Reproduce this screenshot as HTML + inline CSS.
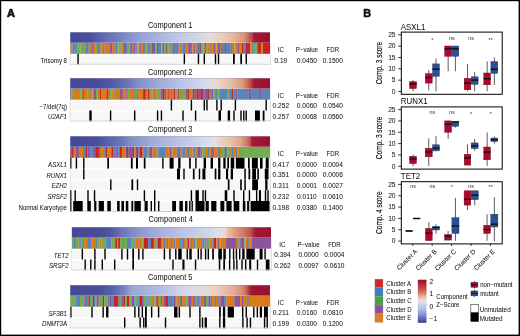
<!DOCTYPE html>
<html><head><meta charset="utf-8"><style>
html,body{margin:0;padding:0;background:#fff;width:520px;height:336px;overflow:hidden}
svg{display:block;will-change:transform;filter:blur(0.3px)}
text{font-family:"Liberation Sans", sans-serif;fill:#111;stroke:#111;stroke-width:0.03px} .bd{stroke-width:0.18px}
</style></head><body>
<svg width="520" height="336" viewBox="0 0 520 336">
<defs><linearGradient id="g0" x1="0" x2="1" y1="0" y2="0"><stop offset="-0" stop-color="#454896"/><stop offset="0.1" stop-color="#4a4f9e"/><stop offset="0.2" stop-color="#6b74b8"/><stop offset="0.37" stop-color="#99a6d6"/><stop offset="0.52" stop-color="#bcc4e6"/><stop offset="0.65" stop-color="#d6d9e2"/><stop offset="0.7" stop-color="#e4dcd8"/><stop offset="0.76" stop-color="#ebcdbb"/><stop offset="0.82" stop-color="#e6b498"/><stop offset="0.87" stop-color="#d89274"/><stop offset="0.89" stop-color="#c86a58"/><stop offset="0.91" stop-color="#b84848"/><stop offset="0.92" stop-color="#a01a32"/><stop offset="1" stop-color="#9c1030"/></linearGradient><linearGradient id="g1" x1="0" x2="1" y1="0" y2="0"><stop offset="-0" stop-color="#454896"/><stop offset="0.15" stop-color="#494e9c"/><stop offset="0.22" stop-color="#545ea8"/><stop offset="0.29" stop-color="#6c76b8"/><stop offset="0.35" stop-color="#8592c8"/><stop offset="0.45" stop-color="#a0acd8"/><stop offset="0.55" stop-color="#b8c2e4"/><stop offset="0.62" stop-color="#c8d0ea"/><stop offset="0.67" stop-color="#d4daee"/><stop offset="0.7" stop-color="#dcdce2"/><stop offset="0.73" stop-color="#ead8cc"/><stop offset="0.8" stop-color="#e8c0a8"/><stop offset="0.86" stop-color="#dc9a7c"/><stop offset="0.89" stop-color="#c86a58"/><stop offset="0.91" stop-color="#b03a40"/><stop offset="0.92" stop-color="#9e1a32"/><stop offset="1" stop-color="#9c1030"/></linearGradient><linearGradient id="g2" x1="0" x2="1" y1="0" y2="0"><stop offset="-0" stop-color="#454896"/><stop offset="0.12" stop-color="#484d9a"/><stop offset="0.17" stop-color="#525ca6"/><stop offset="0.25" stop-color="#6a74b8"/><stop offset="0.31" stop-color="#8590c8"/><stop offset="0.4" stop-color="#9eaad8"/><stop offset="0.5" stop-color="#b0bce0"/><stop offset="0.6" stop-color="#c4cde9"/><stop offset="0.67" stop-color="#d6dcef"/><stop offset="0.73" stop-color="#dfe1ec"/><stop offset="0.74" stop-color="#ecd6c8"/><stop offset="0.8" stop-color="#e8c4ae"/><stop offset="0.85" stop-color="#e0a68c"/><stop offset="0.88" stop-color="#d08068"/><stop offset="0.9" stop-color="#bb5850"/><stop offset="0.91" stop-color="#a01c34"/><stop offset="1" stop-color="#9c1030"/></linearGradient><linearGradient id="g3" x1="0" x2="1" y1="0" y2="0"><stop offset="0" stop-color="#454896"/><stop offset="0.14" stop-color="#474c9a"/><stop offset="0.2" stop-color="#5058a6"/><stop offset="0.25" stop-color="#6a74b8"/><stop offset="0.32" stop-color="#8590c8"/><stop offset="0.39" stop-color="#9aa6d6"/><stop offset="0.52" stop-color="#b4bee2"/><stop offset="0.59" stop-color="#c0c8e6"/><stop offset="0.69" stop-color="#d0d6ec"/><stop offset="0.73" stop-color="#dddfe6"/><stop offset="0.77" stop-color="#e6dcd8"/><stop offset="0.78" stop-color="#ebc4ac"/><stop offset="0.83" stop-color="#dc9478"/><stop offset="0.87" stop-color="#cc7060"/><stop offset="0.9" stop-color="#bb5048"/><stop offset="0.92" stop-color="#a01a34"/><stop offset="1" stop-color="#9c1030"/></linearGradient><linearGradient id="g4" x1="0" x2="1" y1="0" y2="0"><stop offset="-0" stop-color="#454896"/><stop offset="0.15" stop-color="#4a509c"/><stop offset="0.21" stop-color="#5560aa"/><stop offset="0.27" stop-color="#7884c0"/><stop offset="0.31" stop-color="#9aa6d6"/><stop offset="0.4" stop-color="#aab4de"/><stop offset="0.5" stop-color="#c0c8e6"/><stop offset="0.55" stop-color="#d0d4e8"/><stop offset="0.62" stop-color="#dcdde4"/><stop offset="0.67" stop-color="#e6dcd6"/><stop offset="0.73" stop-color="#ead0c0"/><stop offset="0.81" stop-color="#e4b098"/><stop offset="0.86" stop-color="#d88c74"/><stop offset="0.88" stop-color="#c86858"/><stop offset="0.9" stop-color="#a82838"/><stop offset="0.91" stop-color="#9e1530"/><stop offset="1" stop-color="#9c1030"/></linearGradient><linearGradient id="cb" x1="0" x2="0" y1="0" y2="1"><stop offset="0" stop-color="#9a0a2c"/><stop offset="0.1" stop-color="#b02838"/><stop offset="0.24" stop-color="#cc5c50"/><stop offset="0.33" stop-color="#e08c70"/><stop offset="0.4" stop-color="#ecb8a0"/><stop offset="0.47" stop-color="#e8dcd8"/><stop offset="0.54" stop-color="#d8dcee"/><stop offset="0.66" stop-color="#b8c2ea"/><stop offset="0.8" stop-color="#8c96d4"/><stop offset="0.91" stop-color="#5c64b4"/><stop offset="1" stop-color="#3a3c94"/></linearGradient></defs>
<rect x="0" y="0" width="520" height="336" fill="#fff"/>
<text x="6.9" y="16.7" font-size="11" font-weight="bold" style="stroke-width:0.7px">A</text>
<text x="363.2" y="16.5" font-size="10.8" font-weight="bold" style="stroke-width:0.55px">B</text>
<text transform="translate(170.2 27.5) scale(0.88 1)" font-size="8.4" text-anchor="middle">Component 1</text>
<rect x="70.2" y="32.2" width="199.8" height="10.8" fill="url(#g0)"/>
<rect x="70.2" y="32.2" width="199.8" height="0.7" fill="#8a8a9a" opacity="0.55"/>
<rect x="70.2" y="42.1" width="199.8" height="0.7" fill="#fff" opacity="0.35"/>
<rect x="70.2" y="43" width="0.95" height="10.8" fill="#d97a1b"/>
<rect x="71" y="43" width="1.55" height="10.8" fill="#72ad53"/>
<rect x="72.4" y="43" width="2.55" height="10.8" fill="#5a84b8"/>
<rect x="74.8" y="43" width="1.25" height="10.8" fill="#72ad53"/>
<rect x="75.9" y="43" width="1.75" height="10.8" fill="#5a84b8"/>
<rect x="77.5" y="43" width="1.75" height="10.8" fill="#72ad53"/>
<rect x="79.1" y="43" width="1.45" height="10.8" fill="#d97a1b"/>
<rect x="80.4" y="43" width="4.75" height="10.8" fill="#72ad53"/>
<rect x="85" y="43" width="1.15" height="10.8" fill="#d97a1b"/>
<rect x="86" y="43" width="2.85" height="10.8" fill="#5a84b8"/>
<rect x="88.7" y="43" width="3.45" height="10.8" fill="#d97a1b"/>
<rect x="92" y="43" width="1.15" height="10.8" fill="#8a5599"/>
<rect x="93" y="43" width="2.85" height="10.8" fill="#d97a1b"/>
<rect x="95.7" y="43" width="1.75" height="10.8" fill="#72ad53"/>
<rect x="97.3" y="43" width="1.75" height="10.8" fill="#8a5599"/>
<rect x="98.9" y="43" width="1.25" height="10.8" fill="#d97a1b"/>
<rect x="100" y="43" width="2.25" height="10.8" fill="#72ad53"/>
<rect x="102.1" y="43" width="1.25" height="10.8" fill="#d97a1b"/>
<rect x="103.2" y="43" width="1.45" height="10.8" fill="#8a5599"/>
<rect x="104.5" y="43" width="5.75" height="10.8" fill="#d97a1b"/>
<rect x="110.1" y="43" width="2.65" height="10.8" fill="#8a5599"/>
<rect x="112.6" y="43" width="3.35" height="10.8" fill="#d97a1b"/>
<rect x="115.8" y="43" width="1.45" height="10.8" fill="#5a84b8"/>
<rect x="117.1" y="43" width="1.45" height="10.8" fill="#d97a1b"/>
<rect x="118.4" y="43" width="1.75" height="10.8" fill="#72ad53"/>
<rect x="120" y="43" width="1.45" height="10.8" fill="#72ad53"/>
<rect x="121.3" y="43" width="1.85" height="10.8" fill="#d97a1b"/>
<rect x="123" y="43" width="1.25" height="10.8" fill="#5a84b8"/>
<rect x="124.1" y="43" width="1.95" height="10.8" fill="#8a5599"/>
<rect x="125.9" y="43" width="1.25" height="10.8" fill="#5a84b8"/>
<rect x="127" y="43" width="3.35" height="10.8" fill="#72ad53"/>
<rect x="130.2" y="43" width="2.55" height="10.8" fill="#8a5599"/>
<rect x="132.6" y="43" width="1.45" height="10.8" fill="#d97a1b"/>
<rect x="133.9" y="43" width="1.25" height="10.8" fill="#8a5599"/>
<rect x="135" y="43" width="1.25" height="10.8" fill="#72ad53"/>
<rect x="136.1" y="43" width="1.35" height="10.8" fill="#5a84b8"/>
<rect x="137.3" y="43" width="1.25" height="10.8" fill="#72ad53"/>
<rect x="138.4" y="43" width="1.85" height="10.8" fill="#d97a1b"/>
<rect x="140.1" y="43" width="1.25" height="10.8" fill="#8a5599"/>
<rect x="141.2" y="43" width="1.95" height="10.8" fill="#d97a1b"/>
<rect x="143" y="43" width="2.65" height="10.8" fill="#5a84b8"/>
<rect x="145.5" y="43" width="1.45" height="10.8" fill="#d97a1b"/>
<rect x="146.8" y="43" width="1.35" height="10.8" fill="#72ad53"/>
<rect x="148" y="43" width="2.15" height="10.8" fill="#5a84b8"/>
<rect x="150" y="43" width="1.45" height="10.8" fill="#72ad53"/>
<rect x="151.3" y="43" width="4.15" height="10.8" fill="#8a5599"/>
<rect x="155.3" y="43" width="1.75" height="10.8" fill="#72ad53"/>
<rect x="156.9" y="43" width="1.25" height="10.8" fill="#8a5599"/>
<rect x="158" y="43" width="3.35" height="10.8" fill="#5a84b8"/>
<rect x="161.2" y="43" width="1.55" height="10.8" fill="#72ad53"/>
<rect x="162.6" y="43" width="1.65" height="10.8" fill="#8a5599"/>
<rect x="164.1" y="43" width="1.55" height="10.8" fill="#72ad53"/>
<rect x="165.5" y="43" width="1.75" height="10.8" fill="#8a5599"/>
<rect x="167.1" y="43" width="1.25" height="10.8" fill="#d97a1b"/>
<rect x="168.2" y="43" width="1.95" height="10.8" fill="#72ad53"/>
<rect x="170" y="43" width="2.55" height="10.8" fill="#72ad53"/>
<rect x="172.4" y="43" width="1.85" height="10.8" fill="#8a5599"/>
<rect x="174.1" y="43" width="4.65" height="10.8" fill="#5a84b8"/>
<rect x="178.6" y="43" width="0.95" height="10.8" fill="#8a5599"/>
<rect x="179.4" y="43" width="3.05" height="10.8" fill="#d97a1b"/>
<rect x="182.3" y="43" width="2.85" height="10.8" fill="#5a84b8"/>
<rect x="185" y="43" width="3.35" height="10.8" fill="#d97a1b"/>
<rect x="188.2" y="43" width="2.85" height="10.8" fill="#8a5599"/>
<rect x="190.9" y="43" width="1.55" height="10.8" fill="#5a84b8"/>
<rect x="192.3" y="43" width="1.95" height="10.8" fill="#d97a1b"/>
<rect x="194.1" y="43" width="1.25" height="10.8" fill="#8a5599"/>
<rect x="195.2" y="43" width="1.75" height="10.8" fill="#d97a1b"/>
<rect x="196.8" y="43" width="2.45" height="10.8" fill="#5a84b8"/>
<rect x="199.1" y="43" width="2.05" height="10.8" fill="#8a5599"/>
<rect x="201" y="43" width="1.25" height="10.8" fill="#d97a1b"/>
<rect x="202.1" y="43" width="1.45" height="10.8" fill="#72ad53"/>
<rect x="203.4" y="43" width="1.55" height="10.8" fill="#d97a1b"/>
<rect x="204.8" y="43" width="1.75" height="10.8" fill="#8a5599"/>
<rect x="206.4" y="43" width="1.75" height="10.8" fill="#72ad53"/>
<rect x="208" y="43" width="1.75" height="10.8" fill="#d97a1b"/>
<rect x="209.6" y="43" width="1.25" height="10.8" fill="#8a5599"/>
<rect x="210.7" y="43" width="1.25" height="10.8" fill="#72ad53"/>
<rect x="211.8" y="43" width="1.75" height="10.8" fill="#d97a1b"/>
<rect x="213.4" y="43" width="1.75" height="10.8" fill="#8a5599"/>
<rect x="215" y="43" width="1.45" height="10.8" fill="#72ad53"/>
<rect x="216.3" y="43" width="1.85" height="10.8" fill="#d97a1b"/>
<rect x="218" y="43" width="2.15" height="10.8" fill="#8a5599"/>
<rect x="220" y="43" width="1.15" height="10.8" fill="#d97a1b"/>
<rect x="221" y="43" width="3.95" height="10.8" fill="#5a84b8"/>
<rect x="224.8" y="43" width="1.25" height="10.8" fill="#8a5599"/>
<rect x="225.9" y="43" width="3.35" height="10.8" fill="#5a84b8"/>
<rect x="229.1" y="43" width="1.25" height="10.8" fill="#8a5599"/>
<rect x="230.2" y="43" width="1.95" height="10.8" fill="#5a84b8"/>
<rect x="232" y="43" width="2.65" height="10.8" fill="#d97a1b"/>
<rect x="234.5" y="43" width="1.45" height="10.8" fill="#72ad53"/>
<rect x="235.8" y="43" width="1.65" height="10.8" fill="#d97a1b"/>
<rect x="237.3" y="43" width="1.85" height="10.8" fill="#8a5599"/>
<rect x="239" y="43" width="3.15" height="10.8" fill="#d97a1b"/>
<rect x="242" y="43" width="1.15" height="10.8" fill="#c92424"/>
<rect x="243" y="43" width="3.05" height="10.8" fill="#5a84b8"/>
<rect x="245.9" y="43" width="4.45" height="10.8" fill="#c92424"/>
<rect x="250.2" y="43" width="1.55" height="10.8" fill="#d97a1b"/>
<rect x="251.6" y="43" width="1.55" height="10.8" fill="#5a84b8"/>
<rect x="253" y="43" width="4.45" height="10.8" fill="#72ad53"/>
<rect x="257.3" y="43" width="4.35" height="10.8" fill="#c92424"/>
<rect x="261.5" y="43" width="1.65" height="10.8" fill="#d97a1b"/>
<rect x="263" y="43" width="7.15" height="10.8" fill="#c92424"/>
<rect x="70.2" y="55" width="199.8" height="8.9" fill="#f7f7f7"/>
<rect x="77.35" y="53.8" width="1.4" height="10.8" fill="#000"/>
<rect x="183.65" y="53.8" width="1.4" height="10.8" fill="#000"/>
<rect x="197.75" y="53.8" width="1.4" height="10.8" fill="#000"/>
<rect x="203.6" y="53.8" width="1.4" height="10.8" fill="#000"/>
<rect x="214.8" y="53.8" width="1.4" height="10.8" fill="#000"/>
<rect x="217.8" y="53.8" width="1.4" height="10.8" fill="#000"/>
<rect x="233" y="53.8" width="1.8" height="10.8" fill="#000"/>
<rect x="240.3" y="53.8" width="1.7" height="10.8" fill="#000"/>
<rect x="245.55" y="53.8" width="1.4" height="10.8" fill="#000"/>
<text transform="translate(67 62.7) scale(0.95 1)" font-size="6.4" text-anchor="end">Trisomy 8</text>
<rect x="70.2" y="63.8" width="200.4" height="0.9" fill="#cfcfcf"/>
<rect x="270" y="54.3" width="0.8" height="10.3" fill="#d8d8d8"/>
<rect x="69.8" y="53.8" width="0.5" height="10.8" fill="#d0d0d0"/>
<text transform="translate(280.8 51.9) scale(0.95 1)" font-size="6.4" text-anchor="middle">IC</text>
<text transform="translate(306.9 51.9) scale(0.95 1)" font-size="6.4" text-anchor="middle">P−value</text>
<text transform="translate(332.8 51.9) scale(0.95 1)" font-size="6.4" text-anchor="middle">FDR</text>
<text transform="translate(280.8 62.5) scale(1.03 1)" font-size="6.4" text-anchor="middle">0.19</text>
<text transform="translate(306.9 62.5) scale(1.03 1)" font-size="6.4" text-anchor="middle">0.0450</text>
<text transform="translate(332.8 62.5) scale(1.03 1)" font-size="6.4" text-anchor="middle">0.1500</text>
<text transform="translate(170.2 74.8) scale(0.88 1)" font-size="8.4" text-anchor="middle">Component 2</text>
<rect x="70.2" y="78.1" width="199.8" height="10.8" fill="url(#g1)"/>
<rect x="70.2" y="78.1" width="199.8" height="0.7" fill="#8a8a9a" opacity="0.55"/>
<rect x="70.2" y="88" width="199.8" height="0.7" fill="#fff" opacity="0.35"/>
<rect x="70.2" y="88.9" width="1.35" height="10.8" fill="#8a5599"/>
<rect x="71.4" y="88.9" width="1.55" height="10.8" fill="#72ad53"/>
<rect x="72.8" y="88.9" width="7.45" height="10.8" fill="#d97a1b"/>
<rect x="80.1" y="88.9" width="1.25" height="10.8" fill="#72ad53"/>
<rect x="81.2" y="88.9" width="1.85" height="10.8" fill="#d97a1b"/>
<rect x="82.9" y="88.9" width="1.25" height="10.8" fill="#8a5599"/>
<rect x="84" y="88.9" width="3.25" height="10.8" fill="#d97a1b"/>
<rect x="87.1" y="88.9" width="1.95" height="10.8" fill="#72ad53"/>
<rect x="88.9" y="88.9" width="2.25" height="10.8" fill="#d97a1b"/>
<rect x="91" y="88.9" width="1.55" height="10.8" fill="#72ad53"/>
<rect x="92.4" y="88.9" width="1.55" height="10.8" fill="#d97a1b"/>
<rect x="93.8" y="88.9" width="2.25" height="10.8" fill="#8a5599"/>
<rect x="95.9" y="88.9" width="1.55" height="10.8" fill="#72ad53"/>
<rect x="97.3" y="88.9" width="2.55" height="10.8" fill="#d97a1b"/>
<rect x="99.7" y="88.9" width="1.55" height="10.8" fill="#c92424"/>
<rect x="101.1" y="88.9" width="5.75" height="10.8" fill="#d97a1b"/>
<rect x="106.7" y="88.9" width="1.95" height="10.8" fill="#c92424"/>
<rect x="108.5" y="88.9" width="1.55" height="10.8" fill="#d97a1b"/>
<rect x="109.9" y="88.9" width="1.55" height="10.8" fill="#72ad53"/>
<rect x="111.3" y="88.9" width="1.55" height="10.8" fill="#d97a1b"/>
<rect x="112.7" y="88.9" width="1.55" height="10.8" fill="#72ad53"/>
<rect x="114.1" y="88.9" width="6.05" height="10.8" fill="#d97a1b"/>
<rect x="120" y="88.9" width="2.95" height="10.8" fill="#8a5599"/>
<rect x="122.8" y="88.9" width="3.65" height="10.8" fill="#d97a1b"/>
<rect x="126.3" y="88.9" width="1.55" height="10.8" fill="#8a5599"/>
<rect x="127.7" y="88.9" width="1.55" height="10.8" fill="#72ad53"/>
<rect x="129.1" y="88.9" width="4.35" height="10.8" fill="#d97a1b"/>
<rect x="133.3" y="88.9" width="1.55" height="10.8" fill="#8a5599"/>
<rect x="134.7" y="88.9" width="2.55" height="10.8" fill="#72ad53"/>
<rect x="137.1" y="88.9" width="1.25" height="10.8" fill="#8a5599"/>
<rect x="138.2" y="88.9" width="5.05" height="10.8" fill="#d97a1b"/>
<rect x="143.1" y="88.9" width="1.95" height="10.8" fill="#c92424"/>
<rect x="144.9" y="88.9" width="1.15" height="10.8" fill="#8a5599"/>
<rect x="145.9" y="88.9" width="2.25" height="10.8" fill="#d97a1b"/>
<rect x="148" y="88.9" width="1.55" height="10.8" fill="#c92424"/>
<rect x="149.4" y="88.9" width="1.25" height="10.8" fill="#8a5599"/>
<rect x="150.5" y="88.9" width="2.15" height="10.8" fill="#72ad53"/>
<rect x="152.5" y="88.9" width="4.35" height="10.8" fill="#d97a1b"/>
<rect x="156.7" y="88.9" width="4.05" height="10.8" fill="#72ad53"/>
<rect x="160.6" y="88.9" width="2.25" height="10.8" fill="#8a5599"/>
<rect x="162.7" y="88.9" width="1.95" height="10.8" fill="#c92424"/>
<rect x="164.5" y="88.9" width="1.85" height="10.8" fill="#8a5599"/>
<rect x="166.2" y="88.9" width="1.55" height="10.8" fill="#d97a1b"/>
<rect x="167.6" y="88.9" width="1.25" height="10.8" fill="#c92424"/>
<rect x="168.7" y="88.9" width="1.45" height="10.8" fill="#d97a1b"/>
<rect x="170" y="88.9" width="1.25" height="10.8" fill="#d97a1b"/>
<rect x="171.1" y="88.9" width="1.55" height="10.8" fill="#8a5599"/>
<rect x="172.5" y="88.9" width="1.55" height="10.8" fill="#d97a1b"/>
<rect x="173.9" y="88.9" width="1.55" height="10.8" fill="#c92424"/>
<rect x="175.3" y="88.9" width="1.55" height="10.8" fill="#d97a1b"/>
<rect x="176.7" y="88.9" width="1.15" height="10.8" fill="#72ad53"/>
<rect x="177.7" y="88.9" width="1.55" height="10.8" fill="#8a5599"/>
<rect x="179.1" y="88.9" width="1.95" height="10.8" fill="#d97a1b"/>
<rect x="180.9" y="88.9" width="4.65" height="10.8" fill="#72ad53"/>
<rect x="185.4" y="88.9" width="2.25" height="10.8" fill="#8a5599"/>
<rect x="187.5" y="88.9" width="1.55" height="10.8" fill="#c92424"/>
<rect x="188.9" y="88.9" width="2.25" height="10.8" fill="#d97a1b"/>
<rect x="191" y="88.9" width="1.85" height="10.8" fill="#72ad53"/>
<rect x="192.7" y="88.9" width="1.95" height="10.8" fill="#c92424"/>
<rect x="194.5" y="88.9" width="2.25" height="10.8" fill="#8a5599"/>
<rect x="196.6" y="88.9" width="2.25" height="10.8" fill="#c92424"/>
<rect x="198.7" y="88.9" width="2.25" height="10.8" fill="#8a5599"/>
<rect x="200.8" y="88.9" width="2.25" height="10.8" fill="#c92424"/>
<rect x="202.9" y="88.9" width="1.55" height="10.8" fill="#5a84b8"/>
<rect x="204.3" y="88.9" width="3.65" height="10.8" fill="#8a5599"/>
<rect x="207.8" y="88.9" width="1.55" height="10.8" fill="#c92424"/>
<rect x="209.2" y="88.9" width="2.25" height="10.8" fill="#5a84b8"/>
<rect x="211.3" y="88.9" width="2.25" height="10.8" fill="#8a5599"/>
<rect x="213.4" y="88.9" width="1.85" height="10.8" fill="#72ad53"/>
<rect x="215.1" y="88.9" width="2.65" height="10.8" fill="#5a84b8"/>
<rect x="217.6" y="88.9" width="2.55" height="10.8" fill="#72ad53"/>
<rect x="220" y="88.9" width="7.85" height="10.8" fill="#5a84b8"/>
<rect x="227.7" y="88.9" width="1.55" height="10.8" fill="#72ad53"/>
<rect x="229.1" y="88.9" width="2.95" height="10.8" fill="#5a84b8"/>
<rect x="231.9" y="88.9" width="1.55" height="10.8" fill="#c92424"/>
<rect x="233.3" y="88.9" width="2.55" height="10.8" fill="#5a84b8"/>
<rect x="235.7" y="88.9" width="1.95" height="10.8" fill="#8a5599"/>
<rect x="237.5" y="88.9" width="11.35" height="10.8" fill="#5a84b8"/>
<rect x="248.7" y="88.9" width="2.55" height="10.8" fill="#8a5599"/>
<rect x="251.1" y="88.9" width="8.95" height="10.8" fill="#5a84b8"/>
<rect x="259.9" y="88.9" width="1.95" height="10.8" fill="#8a5599"/>
<rect x="261.7" y="88.9" width="8.45" height="10.8" fill="#5a84b8"/>
<rect x="70.2" y="100.9" width="199.8" height="8.9" fill="#f7f7f7"/>
<rect x="170.7" y="99.7" width="1.4" height="10.8" fill="#000"/>
<rect x="190.7" y="99.7" width="1.4" height="10.8" fill="#000"/>
<rect x="203.6" y="99.7" width="1.4" height="10.8" fill="#000"/>
<rect x="206.25" y="99.7" width="1.4" height="10.8" fill="#000"/>
<rect x="216.2" y="99.7" width="1.4" height="10.8" fill="#000"/>
<rect x="220.5" y="99.7" width="1.4" height="10.8" fill="#000"/>
<rect x="234.7" y="99.7" width="1.4" height="10.8" fill="#000"/>
<rect x="265.5" y="99.7" width="1.4" height="10.8" fill="#000"/>
<text transform="translate(67 108.6) scale(0.95 1)" font-size="6.4" text-anchor="end">−7/del(7q)</text>
<rect x="70.2" y="111.7" width="199.8" height="8.9" fill="#f7f7f7"/>
<rect x="89.3" y="110.5" width="2.4" height="10.8" fill="#000"/>
<rect x="109.9" y="110.5" width="1.4" height="10.8" fill="#000"/>
<rect x="134" y="110.5" width="1.4" height="10.8" fill="#000"/>
<rect x="156.9" y="110.5" width="1.4" height="10.8" fill="#000"/>
<rect x="160.75" y="110.5" width="1.4" height="10.8" fill="#000"/>
<rect x="182.3" y="110.5" width="1.4" height="10.8" fill="#000"/>
<rect x="194.9" y="110.5" width="1.4" height="10.8" fill="#000"/>
<rect x="218.5" y="110.5" width="2.5" height="10.8" fill="#000"/>
<rect x="227.7" y="110.5" width="2.4" height="10.8" fill="#000"/>
<rect x="233.3" y="110.5" width="1.4" height="10.8" fill="#000"/>
<rect x="240.3" y="110.5" width="1.4" height="10.8" fill="#000"/>
<rect x="243.1" y="110.5" width="1.4" height="10.8" fill="#000"/>
<rect x="245.5" y="110.5" width="1.4" height="10.8" fill="#000"/>
<rect x="255" y="110.5" width="4.9" height="10.8" fill="#000"/>
<rect x="262.7" y="110.5" width="1.8" height="10.8" fill="#000"/>
<text transform="translate(67 119.4) scale(0.95 1)" font-size="6.4" text-anchor="end" font-style="italic">U2AF1</text>
<rect x="70.2" y="120.5" width="200.4" height="0.9" fill="#cfcfcf"/>
<rect x="270" y="100.2" width="0.8" height="21.1" fill="#d8d8d8"/>
<rect x="69.8" y="99.7" width="0.5" height="21.6" fill="#d0d0d0"/>
<text transform="translate(280.8 97.8) scale(0.95 1)" font-size="6.4" text-anchor="middle">IC</text>
<text transform="translate(306.9 97.8) scale(0.95 1)" font-size="6.4" text-anchor="middle">P−value</text>
<text transform="translate(332.8 97.8) scale(0.95 1)" font-size="6.4" text-anchor="middle">FDR</text>
<text transform="translate(280.8 108.4) scale(1.03 1)" font-size="6.4" text-anchor="middle">0.252</text>
<text transform="translate(306.9 108.4) scale(1.03 1)" font-size="6.4" text-anchor="middle">0.0060</text>
<text transform="translate(332.8 108.4) scale(1.03 1)" font-size="6.4" text-anchor="middle">0.0540</text>
<text transform="translate(280.8 119.2) scale(1.03 1)" font-size="6.4" text-anchor="middle">0.257</text>
<text transform="translate(306.9 119.2) scale(1.03 1)" font-size="6.4" text-anchor="middle">0.0068</text>
<text transform="translate(332.8 119.2) scale(1.03 1)" font-size="6.4" text-anchor="middle">0.0560</text>
<text transform="translate(170.2 131.5) scale(0.88 1)" font-size="8.4" text-anchor="middle">Component 3</text>
<rect x="70.2" y="136.2" width="199.8" height="10.8" fill="url(#g2)"/>
<rect x="70.2" y="136.2" width="199.8" height="0.7" fill="#8a8a9a" opacity="0.55"/>
<rect x="70.2" y="146.1" width="199.8" height="0.7" fill="#fff" opacity="0.35"/>
<rect x="70.2" y="147" width="1.15" height="10.8" fill="#8a5599"/>
<rect x="71.2" y="147" width="1.85" height="10.8" fill="#c92424"/>
<rect x="72.9" y="147" width="1.25" height="10.8" fill="#5a84b8"/>
<rect x="74" y="147" width="2.15" height="10.8" fill="#d97a1b"/>
<rect x="76" y="147" width="2.95" height="10.8" fill="#8a5599"/>
<rect x="78.8" y="147" width="4.35" height="10.8" fill="#d97a1b"/>
<rect x="83" y="147" width="3.05" height="10.8" fill="#5a84b8"/>
<rect x="85.9" y="147" width="1.55" height="10.8" fill="#c92424"/>
<rect x="87.3" y="147" width="3.05" height="10.8" fill="#8a5599"/>
<rect x="90.2" y="147" width="3.05" height="10.8" fill="#5a84b8"/>
<rect x="93.1" y="147" width="2.85" height="10.8" fill="#8a5599"/>
<rect x="95.8" y="147" width="3.15" height="10.8" fill="#c92424"/>
<rect x="98.8" y="147" width="1.35" height="10.8" fill="#8a5599"/>
<rect x="100" y="147" width="4.25" height="10.8" fill="#d97a1b"/>
<rect x="104.1" y="147" width="1.85" height="10.8" fill="#5a84b8"/>
<rect x="105.8" y="147" width="1.35" height="10.8" fill="#c92424"/>
<rect x="107" y="147" width="4.45" height="10.8" fill="#d97a1b"/>
<rect x="111.3" y="147" width="1.95" height="10.8" fill="#c92424"/>
<rect x="113.1" y="147" width="3.25" height="10.8" fill="#5a84b8"/>
<rect x="116.2" y="147" width="2.05" height="10.8" fill="#8a5599"/>
<rect x="118.1" y="147" width="2.05" height="10.8" fill="#5a84b8"/>
<rect x="120" y="147" width="2.05" height="10.8" fill="#c92424"/>
<rect x="121.9" y="147" width="1.35" height="10.8" fill="#d97a1b"/>
<rect x="123.1" y="147" width="1.05" height="10.8" fill="#5a84b8"/>
<rect x="124" y="147" width="2.15" height="10.8" fill="#d97a1b"/>
<rect x="126" y="147" width="1.05" height="10.8" fill="#8a5599"/>
<rect x="126.9" y="147" width="1.75" height="10.8" fill="#c92424"/>
<rect x="128.5" y="147" width="4.65" height="10.8" fill="#8a5599"/>
<rect x="133" y="147" width="1.35" height="10.8" fill="#c92424"/>
<rect x="134.2" y="147" width="1.55" height="10.8" fill="#d97a1b"/>
<rect x="135.6" y="147" width="1.35" height="10.8" fill="#8a5599"/>
<rect x="136.8" y="147" width="1.65" height="10.8" fill="#c92424"/>
<rect x="138.3" y="147" width="1.85" height="10.8" fill="#5a84b8"/>
<rect x="140" y="147" width="2.75" height="10.8" fill="#c92424"/>
<rect x="142.6" y="147" width="1.55" height="10.8" fill="#d97a1b"/>
<rect x="144" y="147" width="3.05" height="10.8" fill="#5a84b8"/>
<rect x="146.9" y="147" width="1.65" height="10.8" fill="#d97a1b"/>
<rect x="148.4" y="147" width="1.55" height="10.8" fill="#5a84b8"/>
<rect x="149.8" y="147" width="2.85" height="10.8" fill="#8a5599"/>
<rect x="152.5" y="147" width="2.75" height="10.8" fill="#d97a1b"/>
<rect x="155.1" y="147" width="1.55" height="10.8" fill="#5a84b8"/>
<rect x="156.5" y="147" width="1.95" height="10.8" fill="#d97a1b"/>
<rect x="158.3" y="147" width="6.85" height="10.8" fill="#5a84b8"/>
<rect x="165" y="147" width="2.25" height="10.8" fill="#d97a1b"/>
<rect x="167.1" y="147" width="1.15" height="10.8" fill="#5a84b8"/>
<rect x="168.1" y="147" width="2.05" height="10.8" fill="#d97a1b"/>
<rect x="170" y="147" width="1.35" height="10.8" fill="#8a5599"/>
<rect x="171.2" y="147" width="1.35" height="10.8" fill="#5a84b8"/>
<rect x="172.4" y="147" width="4.45" height="10.8" fill="#d97a1b"/>
<rect x="176.7" y="147" width="2.55" height="10.8" fill="#5a84b8"/>
<rect x="179.1" y="147" width="1.65" height="10.8" fill="#8a5599"/>
<rect x="180.6" y="147" width="1.85" height="10.8" fill="#d97a1b"/>
<rect x="182.3" y="147" width="2.75" height="10.8" fill="#5a84b8"/>
<rect x="184.9" y="147" width="2.05" height="10.8" fill="#d97a1b"/>
<rect x="186.8" y="147" width="2.35" height="10.8" fill="#5a84b8"/>
<rect x="189" y="147" width="2.35" height="10.8" fill="#d97a1b"/>
<rect x="191.2" y="147" width="1.25" height="10.8" fill="#5a84b8"/>
<rect x="192.3" y="147" width="1.85" height="10.8" fill="#d97a1b"/>
<rect x="194" y="147" width="1.65" height="10.8" fill="#5a84b8"/>
<rect x="195.5" y="147" width="2.55" height="10.8" fill="#d97a1b"/>
<rect x="197.9" y="147" width="2.85" height="10.8" fill="#8a5599"/>
<rect x="200.6" y="147" width="1.75" height="10.8" fill="#5a84b8"/>
<rect x="202.2" y="147" width="2.75" height="10.8" fill="#72ad53"/>
<rect x="204.8" y="147" width="3.35" height="10.8" fill="#d97a1b"/>
<rect x="208" y="147" width="1.35" height="10.8" fill="#5a84b8"/>
<rect x="209.2" y="147" width="1.85" height="10.8" fill="#d97a1b"/>
<rect x="210.9" y="147" width="1.35" height="10.8" fill="#5a84b8"/>
<rect x="212.1" y="147" width="1.85" height="10.8" fill="#8a5599"/>
<rect x="213.8" y="147" width="4.45" height="10.8" fill="#d97a1b"/>
<rect x="218.1" y="147" width="2.05" height="10.8" fill="#5a84b8"/>
<rect x="220" y="147" width="2.05" height="10.8" fill="#d97a1b"/>
<rect x="221.9" y="147" width="3.05" height="10.8" fill="#72ad53"/>
<rect x="224.8" y="147" width="1.35" height="10.8" fill="#8a5599"/>
<rect x="226" y="147" width="1.65" height="10.8" fill="#5a84b8"/>
<rect x="227.5" y="147" width="1.75" height="10.8" fill="#72ad53"/>
<rect x="229.1" y="147" width="2.75" height="10.8" fill="#d97a1b"/>
<rect x="231.7" y="147" width="1.45" height="10.8" fill="#5a84b8"/>
<rect x="233" y="147" width="2.05" height="10.8" fill="#d97a1b"/>
<rect x="234.9" y="147" width="1.15" height="10.8" fill="#72ad53"/>
<rect x="235.9" y="147" width="1.55" height="10.8" fill="#5a84b8"/>
<rect x="237.3" y="147" width="1.85" height="10.8" fill="#d97a1b"/>
<rect x="239" y="147" width="31.15" height="10.8" fill="#72ad53"/>
<rect x="70.2" y="159" width="199.8" height="8.9" fill="#f7f7f7"/>
<rect x="70.05" y="157.8" width="1.4" height="10.8" fill="#000"/>
<rect x="75.7" y="157.8" width="1.4" height="10.8" fill="#000"/>
<rect x="83.1" y="157.8" width="1.4" height="10.8" fill="#000"/>
<rect x="107.3" y="157.8" width="1.7" height="10.8" fill="#000"/>
<rect x="130.9" y="157.8" width="1.8" height="10.8" fill="#000"/>
<rect x="136" y="157.8" width="2" height="10.8" fill="#000"/>
<rect x="143.8" y="157.8" width="1.7" height="10.8" fill="#000"/>
<rect x="162.2" y="157.8" width="1.4" height="10.8" fill="#000"/>
<rect x="169.6" y="157.8" width="4" height="10.8" fill="#000"/>
<rect x="178.2" y="157.8" width="2.3" height="10.8" fill="#000"/>
<rect x="189.1" y="157.8" width="1.7" height="10.8" fill="#000"/>
<rect x="195.2" y="157.8" width="1.4" height="10.8" fill="#000"/>
<rect x="203.6" y="157.8" width="2.4" height="10.8" fill="#000"/>
<rect x="210.6" y="157.8" width="2.4" height="10.8" fill="#000"/>
<rect x="218.1" y="157.8" width="2.3" height="10.8" fill="#000"/>
<rect x="223.3" y="157.8" width="2.3" height="10.8" fill="#000"/>
<rect x="227.3" y="157.8" width="1.7" height="10.8" fill="#000"/>
<rect x="230.7" y="157.8" width="3.5" height="10.8" fill="#000"/>
<rect x="235.9" y="157.8" width="8.6" height="10.8" fill="#000"/>
<rect x="248" y="157.8" width="1.7" height="10.8" fill="#000"/>
<rect x="251.9" y="157.8" width="5.9" height="10.8" fill="#000"/>
<rect x="260" y="157.8" width="2.6" height="10.8" fill="#000"/>
<rect x="265.7" y="157.8" width="3" height="10.8" fill="#000"/>
<text transform="translate(67 166.7) scale(0.95 1)" font-size="6.4" text-anchor="end" font-style="italic">ASXL1</text>
<rect x="70.2" y="169.8" width="199.8" height="8.9" fill="#f7f7f7"/>
<rect x="83.1" y="168.6" width="1.4" height="10.8" fill="#000"/>
<rect x="177" y="168.6" width="3" height="10.8" fill="#000"/>
<rect x="183.3" y="168.6" width="1.4" height="10.8" fill="#000"/>
<rect x="192.9" y="168.6" width="1.7" height="10.8" fill="#000"/>
<rect x="198.8" y="168.6" width="1.4" height="10.8" fill="#000"/>
<rect x="202.4" y="168.6" width="3" height="10.8" fill="#000"/>
<rect x="214.7" y="168.6" width="1.7" height="10.8" fill="#000"/>
<rect x="218.1" y="168.6" width="2.3" height="10.8" fill="#000"/>
<rect x="226" y="168.6" width="2.1" height="10.8" fill="#000"/>
<rect x="230.7" y="168.6" width="2.3" height="10.8" fill="#000"/>
<rect x="244.3" y="168.6" width="1.5" height="10.8" fill="#000"/>
<rect x="248.5" y="168.6" width="1.7" height="10.8" fill="#000"/>
<rect x="252.2" y="168.6" width="3.8" height="10.8" fill="#000"/>
<rect x="257.3" y="168.6" width="1.6" height="10.8" fill="#000"/>
<rect x="264.8" y="168.6" width="3.7" height="10.8" fill="#000"/>
<text transform="translate(67 177.5) scale(0.95 1)" font-size="6.4" text-anchor="end" font-style="italic">RUNX1</text>
<rect x="70.2" y="180.6" width="199.8" height="8.9" fill="#f7f7f7"/>
<rect x="110.1" y="179.4" width="1.4" height="10.8" fill="#000"/>
<rect x="131.4" y="179.4" width="1.8" height="10.8" fill="#000"/>
<rect x="136.8" y="179.4" width="1.4" height="10.8" fill="#000"/>
<rect x="227.8" y="179.4" width="1.7" height="10.8" fill="#000"/>
<rect x="240.2" y="179.4" width="1.6" height="10.8" fill="#000"/>
<rect x="244.3" y="179.4" width="1.5" height="10.8" fill="#000"/>
<rect x="252.2" y="179.4" width="5.8" height="10.8" fill="#000"/>
<rect x="265.2" y="179.4" width="2.3" height="10.8" fill="#000"/>
<text transform="translate(67 188.3) scale(0.95 1)" font-size="6.4" text-anchor="end" font-style="italic">EZH2</text>
<rect x="70.2" y="191.4" width="199.8" height="8.9" fill="#f7f7f7"/>
<rect x="70.05" y="190.2" width="1.4" height="10.8" fill="#000"/>
<rect x="74.5" y="190.2" width="1.4" height="10.8" fill="#000"/>
<rect x="87.3" y="190.2" width="1.4" height="10.8" fill="#000"/>
<rect x="93.85" y="190.2" width="1.4" height="10.8" fill="#000"/>
<rect x="143.7" y="190.2" width="1.4" height="10.8" fill="#000"/>
<rect x="154" y="190.2" width="1.4" height="10.8" fill="#000"/>
<rect x="190.7" y="190.2" width="1.4" height="10.8" fill="#000"/>
<rect x="195.5" y="190.2" width="3.4" height="10.8" fill="#000"/>
<rect x="202.3" y="190.2" width="1.4" height="10.8" fill="#000"/>
<rect x="204.75" y="190.2" width="1.4" height="10.8" fill="#000"/>
<rect x="224.7" y="190.2" width="2.6" height="10.8" fill="#000"/>
<rect x="233.3" y="190.2" width="1.4" height="10.8" fill="#000"/>
<rect x="243" y="190.2" width="1.4" height="10.8" fill="#000"/>
<rect x="248.75" y="190.2" width="1.4" height="10.8" fill="#000"/>
<rect x="255.95" y="190.2" width="1.4" height="10.8" fill="#000"/>
<rect x="258.9" y="190.2" width="2.1" height="10.8" fill="#000"/>
<rect x="264.8" y="190.2" width="1.4" height="10.8" fill="#000"/>
<rect x="267.3" y="190.2" width="1.4" height="10.8" fill="#000"/>
<text transform="translate(67 199.1) scale(0.95 1)" font-size="6.4" text-anchor="end" font-style="italic">SRSF2</text>
<rect x="70.2" y="202.2" width="199.8" height="8.9" fill="#f7f7f7"/>
<rect x="70.05" y="201" width="1.4" height="10.8" fill="#000"/>
<rect x="73.2" y="201" width="9.5" height="10.8" fill="#000"/>
<rect x="87.3" y="201" width="3.5" height="10.8" fill="#000"/>
<rect x="94.2" y="201" width="2.2" height="10.8" fill="#000"/>
<rect x="98.7" y="201" width="5.2" height="10.8" fill="#000"/>
<rect x="107.3" y="201" width="3.5" height="10.8" fill="#000"/>
<rect x="117.1" y="201" width="2.6" height="10.8" fill="#000"/>
<rect x="121.4" y="201" width="2.6" height="10.8" fill="#000"/>
<rect x="125.8" y="201" width="2.5" height="10.8" fill="#000"/>
<rect x="131.4" y="201" width="1.8" height="10.8" fill="#000"/>
<rect x="134.4" y="201" width="6.4" height="10.8" fill="#000"/>
<rect x="144.6" y="201" width="3.1" height="10.8" fill="#000"/>
<rect x="150.6" y="201" width="1.4" height="10.8" fill="#000"/>
<rect x="154" y="201" width="1.4" height="10.8" fill="#000"/>
<rect x="158" y="201" width="1.4" height="10.8" fill="#000"/>
<rect x="172.2" y="201" width="3.8" height="10.8" fill="#000"/>
<rect x="179.4" y="201" width="3.5" height="10.8" fill="#000"/>
<rect x="185.1" y="201" width="2.3" height="10.8" fill="#000"/>
<rect x="189.1" y="201" width="1.4" height="10.8" fill="#000"/>
<rect x="191.5" y="201" width="1.4" height="10.8" fill="#000"/>
<rect x="195.5" y="201" width="9" height="10.8" fill="#000"/>
<rect x="205.6" y="201" width="3.2" height="10.8" fill="#000"/>
<rect x="211.2" y="201" width="5.2" height="10.8" fill="#000"/>
<rect x="220.4" y="201" width="3.9" height="10.8" fill="#000"/>
<rect x="226.4" y="201" width="5.2" height="10.8" fill="#000"/>
<rect x="233.7" y="201" width="5.6" height="10.8" fill="#000"/>
<rect x="242.8" y="201" width="2.6" height="10.8" fill="#000"/>
<rect x="247.1" y="201" width="2.1" height="10.8" fill="#000"/>
<rect x="250.6" y="201" width="18.9" height="10.8" fill="#000"/>
<text transform="translate(67 209.9) scale(0.95 1)" font-size="6.4" text-anchor="end">Normal Karyotype</text>
<rect x="70.2" y="211" width="200.4" height="0.9" fill="#cfcfcf"/>
<rect x="270" y="158.3" width="0.8" height="53.5" fill="#d8d8d8"/>
<rect x="69.8" y="157.8" width="0.5" height="54" fill="#d0d0d0"/>
<text transform="translate(280.8 155.9) scale(0.95 1)" font-size="6.4" text-anchor="middle">IC</text>
<text transform="translate(306.9 155.9) scale(0.95 1)" font-size="6.4" text-anchor="middle">P−value</text>
<text transform="translate(332.8 155.9) scale(0.95 1)" font-size="6.4" text-anchor="middle">FDR</text>
<text transform="translate(280.8 166.5) scale(1.03 1)" font-size="6.4" text-anchor="middle">0.417</text>
<text transform="translate(306.9 166.5) scale(1.03 1)" font-size="6.4" text-anchor="middle">0.0000</text>
<text transform="translate(332.8 166.5) scale(1.03 1)" font-size="6.4" text-anchor="middle">0.0004</text>
<text transform="translate(280.8 177.3) scale(1.03 1)" font-size="6.4" text-anchor="middle">0.351</text>
<text transform="translate(306.9 177.3) scale(1.03 1)" font-size="6.4" text-anchor="middle">0.0000</text>
<text transform="translate(332.8 177.3) scale(1.03 1)" font-size="6.4" text-anchor="middle">0.0006</text>
<text transform="translate(280.8 188.1) scale(1.03 1)" font-size="6.4" text-anchor="middle">0.311</text>
<text transform="translate(306.9 188.1) scale(1.03 1)" font-size="6.4" text-anchor="middle">0.0001</text>
<text transform="translate(332.8 188.1) scale(1.03 1)" font-size="6.4" text-anchor="middle">0.0027</text>
<text transform="translate(280.8 198.9) scale(1.03 1)" font-size="6.4" text-anchor="middle">0.232</text>
<text transform="translate(306.9 198.9) scale(1.03 1)" font-size="6.4" text-anchor="middle">0.0110</text>
<text transform="translate(332.8 198.9) scale(1.03 1)" font-size="6.4" text-anchor="middle">0.0610</text>
<text transform="translate(280.8 209.7) scale(1.03 1)" font-size="6.4" text-anchor="middle">0.198</text>
<text transform="translate(306.9 209.7) scale(1.03 1)" font-size="6.4" text-anchor="middle">0.0380</text>
<text transform="translate(332.8 209.7) scale(1.03 1)" font-size="6.4" text-anchor="middle">0.1400</text>
<text transform="translate(170.6 222.1) scale(0.88 1)" font-size="8.4" text-anchor="middle">Component 4</text>
<rect x="71.8" y="227.1" width="199.2" height="10.8" fill="url(#g3)"/>
<rect x="71.8" y="227.1" width="199.2" height="0.7" fill="#8a8a9a" opacity="0.55"/>
<rect x="71.8" y="237" width="199.2" height="0.7" fill="#fff" opacity="0.35"/>
<rect x="71.8" y="237.9" width="2.35" height="10.8" fill="#72ad53"/>
<rect x="74" y="237.9" width="1.95" height="10.8" fill="#5a84b8"/>
<rect x="75.8" y="237.9" width="3.05" height="10.8" fill="#72ad53"/>
<rect x="78.7" y="237.9" width="1.55" height="10.8" fill="#d97a1b"/>
<rect x="80.1" y="237.9" width="1.55" height="10.8" fill="#5a84b8"/>
<rect x="81.5" y="237.9" width="1.65" height="10.8" fill="#72ad53"/>
<rect x="83" y="237.9" width="1.35" height="10.8" fill="#5a84b8"/>
<rect x="84.2" y="237.9" width="3.05" height="10.8" fill="#d97a1b"/>
<rect x="87.1" y="237.9" width="4.25" height="10.8" fill="#5a84b8"/>
<rect x="91.2" y="237.9" width="2.05" height="10.8" fill="#d97a1b"/>
<rect x="93.1" y="237.9" width="1.05" height="10.8" fill="#5a84b8"/>
<rect x="94" y="237.9" width="2.15" height="10.8" fill="#d97a1b"/>
<rect x="96" y="237.9" width="1.05" height="10.8" fill="#5a84b8"/>
<rect x="96.9" y="237.9" width="2.55" height="10.8" fill="#72ad53"/>
<rect x="99.3" y="237.9" width="2.55" height="10.8" fill="#d97a1b"/>
<rect x="101.7" y="237.9" width="4.55" height="10.8" fill="#72ad53"/>
<rect x="106.1" y="237.9" width="5.25" height="10.8" fill="#5a84b8"/>
<rect x="111.2" y="237.9" width="4.15" height="10.8" fill="#72ad53"/>
<rect x="115.2" y="237.9" width="2.05" height="10.8" fill="#c92424"/>
<rect x="117.1" y="237.9" width="1.15" height="10.8" fill="#d97a1b"/>
<rect x="118.1" y="237.9" width="2.05" height="10.8" fill="#c92424"/>
<rect x="120" y="237.9" width="3.05" height="10.8" fill="#72ad53"/>
<rect x="122.9" y="237.9" width="1.25" height="10.8" fill="#5a84b8"/>
<rect x="124" y="237.9" width="3.05" height="10.8" fill="#72ad53"/>
<rect x="126.9" y="237.9" width="4.35" height="10.8" fill="#5a84b8"/>
<rect x="131.1" y="237.9" width="3.25" height="10.8" fill="#72ad53"/>
<rect x="134.2" y="237.9" width="1.15" height="10.8" fill="#5a84b8"/>
<rect x="135.2" y="237.9" width="2.05" height="10.8" fill="#d97a1b"/>
<rect x="137.1" y="237.9" width="1.15" height="10.8" fill="#5a84b8"/>
<rect x="138.1" y="237.9" width="4.35" height="10.8" fill="#d97a1b"/>
<rect x="142.3" y="237.9" width="1.85" height="10.8" fill="#72ad53"/>
<rect x="144" y="237.9" width="4.25" height="10.8" fill="#c92424"/>
<rect x="148.1" y="237.9" width="3.05" height="10.8" fill="#5a84b8"/>
<rect x="151" y="237.9" width="2.95" height="10.8" fill="#c92424"/>
<rect x="153.8" y="237.9" width="1.15" height="10.8" fill="#d97a1b"/>
<rect x="154.8" y="237.9" width="1.85" height="10.8" fill="#72ad53"/>
<rect x="156.5" y="237.9" width="1.65" height="10.8" fill="#5a84b8"/>
<rect x="158" y="237.9" width="3.05" height="10.8" fill="#c92424"/>
<rect x="160.9" y="237.9" width="3.05" height="10.8" fill="#d97a1b"/>
<rect x="163.8" y="237.9" width="1.35" height="10.8" fill="#5a84b8"/>
<rect x="165" y="237.9" width="2.05" height="10.8" fill="#d97a1b"/>
<rect x="166.9" y="237.9" width="1.35" height="10.8" fill="#5a84b8"/>
<rect x="168.1" y="237.9" width="2.05" height="10.8" fill="#d97a1b"/>
<rect x="170" y="237.9" width="1.15" height="10.8" fill="#d97a1b"/>
<rect x="171" y="237.9" width="1.25" height="10.8" fill="#5a84b8"/>
<rect x="172.1" y="237.9" width="1.85" height="10.8" fill="#d97a1b"/>
<rect x="173.8" y="237.9" width="1.65" height="10.8" fill="#5a84b8"/>
<rect x="175.3" y="237.9" width="3.95" height="10.8" fill="#d97a1b"/>
<rect x="179.1" y="237.9" width="1.85" height="10.8" fill="#5a84b8"/>
<rect x="180.8" y="237.9" width="1.35" height="10.8" fill="#72ad53"/>
<rect x="182" y="237.9" width="2.05" height="10.8" fill="#5a84b8"/>
<rect x="183.9" y="237.9" width="1.45" height="10.8" fill="#d97a1b"/>
<rect x="185.2" y="237.9" width="1.45" height="10.8" fill="#5a84b8"/>
<rect x="186.5" y="237.9" width="1.45" height="10.8" fill="#d97a1b"/>
<rect x="187.8" y="237.9" width="1.55" height="10.8" fill="#c92424"/>
<rect x="189.2" y="237.9" width="1.65" height="10.8" fill="#d97a1b"/>
<rect x="190.7" y="237.9" width="1.35" height="10.8" fill="#5a84b8"/>
<rect x="191.9" y="237.9" width="2.05" height="10.8" fill="#d97a1b"/>
<rect x="193.8" y="237.9" width="1.55" height="10.8" fill="#5a84b8"/>
<rect x="195.2" y="237.9" width="1.65" height="10.8" fill="#72ad53"/>
<rect x="196.7" y="237.9" width="5.65" height="10.8" fill="#d97a1b"/>
<rect x="202.2" y="237.9" width="2.55" height="10.8" fill="#5a84b8"/>
<rect x="204.6" y="237.9" width="1.85" height="10.8" fill="#d97a1b"/>
<rect x="206.3" y="237.9" width="1.55" height="10.8" fill="#5a84b8"/>
<rect x="207.7" y="237.9" width="1.65" height="10.8" fill="#72ad53"/>
<rect x="209.2" y="237.9" width="3.25" height="10.8" fill="#d97a1b"/>
<rect x="212.3" y="237.9" width="1.35" height="10.8" fill="#5a84b8"/>
<rect x="213.5" y="237.9" width="2.85" height="10.8" fill="#c92424"/>
<rect x="216.2" y="237.9" width="1.35" height="10.8" fill="#d97a1b"/>
<rect x="217.4" y="237.9" width="1.55" height="10.8" fill="#8a5599"/>
<rect x="218.8" y="237.9" width="1.65" height="10.8" fill="#72ad53"/>
<rect x="220.3" y="237.9" width="5.95" height="10.8" fill="#d97a1b"/>
<rect x="226.1" y="237.9" width="10.05" height="10.8" fill="#8a5599"/>
<rect x="236" y="237.9" width="1.45" height="10.8" fill="#d97a1b"/>
<rect x="237.3" y="237.9" width="1.45" height="10.8" fill="#8a5599"/>
<rect x="238.6" y="237.9" width="1.75" height="10.8" fill="#72ad53"/>
<rect x="240.2" y="237.9" width="4.25" height="10.8" fill="#8a5599"/>
<rect x="244.3" y="237.9" width="1.35" height="10.8" fill="#72ad53"/>
<rect x="245.5" y="237.9" width="1.85" height="10.8" fill="#d97a1b"/>
<rect x="247.2" y="237.9" width="1.65" height="10.8" fill="#8a5599"/>
<rect x="248.7" y="237.9" width="1.25" height="10.8" fill="#72ad53"/>
<rect x="249.8" y="237.9" width="1.95" height="10.8" fill="#d97a1b"/>
<rect x="251.6" y="237.9" width="19.55" height="10.8" fill="#8a5599"/>
<rect x="71.8" y="249.9" width="199.2" height="8.9" fill="#f7f7f7"/>
<rect x="81.65" y="248.7" width="1.4" height="10.8" fill="#000"/>
<rect x="94.2" y="248.7" width="1.4" height="10.8" fill="#000"/>
<rect x="104.3" y="248.7" width="1.4" height="10.8" fill="#000"/>
<rect x="121.2" y="248.7" width="1.4" height="10.8" fill="#000"/>
<rect x="126.8" y="248.7" width="1.4" height="10.8" fill="#000"/>
<rect x="132.3" y="248.7" width="1.7" height="10.8" fill="#000"/>
<rect x="138.1" y="248.7" width="1.4" height="10.8" fill="#000"/>
<rect x="142.2" y="248.7" width="1.4" height="10.8" fill="#000"/>
<rect x="163.7" y="248.7" width="1.4" height="10.8" fill="#000"/>
<rect x="169.2" y="248.7" width="1.4" height="10.8" fill="#000"/>
<rect x="175.1" y="248.7" width="1.4" height="10.8" fill="#000"/>
<rect x="178.2" y="248.7" width="3.5" height="10.8" fill="#000"/>
<rect x="186.55" y="248.7" width="1.4" height="10.8" fill="#000"/>
<rect x="189.3" y="248.7" width="2.4" height="10.8" fill="#000"/>
<rect x="197.6" y="248.7" width="1.4" height="10.8" fill="#000"/>
<rect x="200.4" y="248.7" width="1.4" height="10.8" fill="#000"/>
<rect x="204.9" y="248.7" width="1.4" height="10.8" fill="#000"/>
<rect x="207.6" y="248.7" width="1.4" height="10.8" fill="#000"/>
<rect x="212.2" y="248.7" width="1.7" height="10.8" fill="#000"/>
<rect x="218.3" y="248.7" width="3.6" height="10.8" fill="#000"/>
<rect x="223.3" y="248.7" width="2.5" height="10.8" fill="#000"/>
<rect x="229.1" y="248.7" width="1.4" height="10.8" fill="#000"/>
<rect x="232.85" y="248.7" width="1.4" height="10.8" fill="#000"/>
<rect x="235.7" y="248.7" width="1.4" height="10.8" fill="#000"/>
<rect x="239" y="248.7" width="1.4" height="10.8" fill="#000"/>
<rect x="242.2" y="248.7" width="2.4" height="10.8" fill="#000"/>
<rect x="246.4" y="248.7" width="8.3" height="10.8" fill="#000"/>
<rect x="259.6" y="248.7" width="3" height="10.8" fill="#000"/>
<rect x="264.4" y="248.7" width="1.4" height="10.8" fill="#000"/>
<text transform="translate(68.6 257.6) scale(0.95 1)" font-size="6.4" text-anchor="end" font-style="italic">TET2</text>
<rect x="71.8" y="260.7" width="199.2" height="8.9" fill="#f7f7f7"/>
<rect x="84.5" y="259.5" width="1.4" height="10.8" fill="#000"/>
<rect x="90.1" y="259.5" width="1.4" height="10.8" fill="#000"/>
<rect x="94.2" y="259.5" width="1.4" height="10.8" fill="#000"/>
<rect x="101.6" y="259.5" width="1.4" height="10.8" fill="#000"/>
<rect x="114" y="259.5" width="1.4" height="10.8" fill="#000"/>
<rect x="132.3" y="259.5" width="1.7" height="10.8" fill="#000"/>
<rect x="172.3" y="259.5" width="1.4" height="10.8" fill="#000"/>
<rect x="182.4" y="259.5" width="2.1" height="10.8" fill="#000"/>
<rect x="194.85" y="259.5" width="1.4" height="10.8" fill="#000"/>
<rect x="218.8" y="259.5" width="1.5" height="10.8" fill="#000"/>
<rect x="223.3" y="259.5" width="1.7" height="10.8" fill="#000"/>
<rect x="228.95" y="259.5" width="1.4" height="10.8" fill="#000"/>
<rect x="233.2" y="259.5" width="1.4" height="10.8" fill="#000"/>
<rect x="236.15" y="259.5" width="1.4" height="10.8" fill="#000"/>
<rect x="241.3" y="259.5" width="1.4" height="10.8" fill="#000"/>
<rect x="245" y="259.5" width="1.4" height="10.8" fill="#000"/>
<rect x="249.2" y="259.5" width="2" height="10.8" fill="#000"/>
<rect x="256.8" y="259.5" width="1.4" height="10.8" fill="#000"/>
<rect x="265.8" y="259.5" width="3.7" height="10.8" fill="#000"/>
<text transform="translate(68.6 268.4) scale(0.95 1)" font-size="6.4" text-anchor="end" font-style="italic">SRSF2</text>
<rect x="71.8" y="269.5" width="199.8" height="0.9" fill="#cfcfcf"/>
<rect x="271" y="249.2" width="0.8" height="21.1" fill="#d8d8d8"/>
<rect x="71.4" y="248.7" width="0.5" height="21.6" fill="#d0d0d0"/>
<text transform="translate(282.4 246.8) scale(0.95 1)" font-size="6.4" text-anchor="middle">IC</text>
<text transform="translate(308.5 246.8) scale(0.95 1)" font-size="6.4" text-anchor="middle">P−value</text>
<text transform="translate(334.4 246.8) scale(0.95 1)" font-size="6.4" text-anchor="middle">FDR</text>
<text transform="translate(282.4 257.4) scale(1.03 1)" font-size="6.4" text-anchor="middle">0.394</text>
<text transform="translate(308.5 257.4) scale(1.03 1)" font-size="6.4" text-anchor="middle">0.0000</text>
<text transform="translate(334.4 257.4) scale(1.03 1)" font-size="6.4" text-anchor="middle">0.0004</text>
<text transform="translate(282.4 268.2) scale(1.03 1)" font-size="6.4" text-anchor="middle">0.262</text>
<text transform="translate(308.5 268.2) scale(1.03 1)" font-size="6.4" text-anchor="middle">0.0097</text>
<text transform="translate(334.4 268.2) scale(1.03 1)" font-size="6.4" text-anchor="middle">0.0610</text>
<text transform="translate(170.2 280.1) scale(0.88 1)" font-size="8.4" text-anchor="middle">Component 5</text>
<rect x="70.2" y="285.1" width="199.8" height="10.8" fill="url(#g4)"/>
<rect x="70.2" y="285.1" width="199.8" height="0.7" fill="#8a8a9a" opacity="0.55"/>
<rect x="70.2" y="295" width="199.8" height="0.7" fill="#fff" opacity="0.35"/>
<rect x="70.2" y="295.9" width="6.05" height="10.8" fill="#72ad53"/>
<rect x="76.1" y="295.9" width="3.95" height="10.8" fill="#5a84b8"/>
<rect x="79.9" y="295.9" width="4.55" height="10.8" fill="#72ad53"/>
<rect x="84.3" y="295.9" width="1.65" height="10.8" fill="#8a5599"/>
<rect x="85.8" y="295.9" width="2.85" height="10.8" fill="#5a84b8"/>
<rect x="88.5" y="295.9" width="1.65" height="10.8" fill="#c92424"/>
<rect x="90" y="295.9" width="2.85" height="10.8" fill="#72ad53"/>
<rect x="92.7" y="295.9" width="1.45" height="10.8" fill="#c92424"/>
<rect x="94" y="295.9" width="1.75" height="10.8" fill="#5a84b8"/>
<rect x="95.6" y="295.9" width="1.05" height="10.8" fill="#72ad53"/>
<rect x="96.5" y="295.9" width="2.35" height="10.8" fill="#8a5599"/>
<rect x="98.7" y="295.9" width="4.15" height="10.8" fill="#72ad53"/>
<rect x="102.7" y="295.9" width="1.65" height="10.8" fill="#c92424"/>
<rect x="104.2" y="295.9" width="3.25" height="10.8" fill="#72ad53"/>
<rect x="107.3" y="295.9" width="2.55" height="10.8" fill="#5a84b8"/>
<rect x="109.7" y="295.9" width="1.45" height="10.8" fill="#8a5599"/>
<rect x="111" y="295.9" width="3.15" height="10.8" fill="#5a84b8"/>
<rect x="114" y="295.9" width="4.55" height="10.8" fill="#c92424"/>
<rect x="118.4" y="295.9" width="1.55" height="10.8" fill="#5a84b8"/>
<rect x="119.8" y="295.9" width="1.65" height="10.8" fill="#72ad53"/>
<rect x="121.3" y="295.9" width="2.55" height="10.8" fill="#8a5599"/>
<rect x="123.7" y="295.9" width="1.55" height="10.8" fill="#c92424"/>
<rect x="125.1" y="295.9" width="2.05" height="10.8" fill="#72ad53"/>
<rect x="127" y="295.9" width="2.55" height="10.8" fill="#c92424"/>
<rect x="129.4" y="295.9" width="2.25" height="10.8" fill="#72ad53"/>
<rect x="131.5" y="295.9" width="2.85" height="10.8" fill="#8a5599"/>
<rect x="134.2" y="295.9" width="1.15" height="10.8" fill="#5a84b8"/>
<rect x="135.2" y="295.9" width="3.05" height="10.8" fill="#72ad53"/>
<rect x="138.1" y="295.9" width="2.05" height="10.8" fill="#5a84b8"/>
<rect x="140" y="295.9" width="2.25" height="10.8" fill="#c92424"/>
<rect x="142.1" y="295.9" width="1.75" height="10.8" fill="#8a5599"/>
<rect x="143.7" y="295.9" width="1.75" height="10.8" fill="#72ad53"/>
<rect x="145.3" y="295.9" width="1.55" height="10.8" fill="#5a84b8"/>
<rect x="146.7" y="295.9" width="1.65" height="10.8" fill="#72ad53"/>
<rect x="148.2" y="295.9" width="1.55" height="10.8" fill="#5a84b8"/>
<rect x="149.6" y="295.9" width="2.55" height="10.8" fill="#72ad53"/>
<rect x="152" y="295.9" width="2.35" height="10.8" fill="#d97a1b"/>
<rect x="154.2" y="295.9" width="1.35" height="10.8" fill="#72ad53"/>
<rect x="155.4" y="295.9" width="1.25" height="10.8" fill="#5a84b8"/>
<rect x="156.5" y="295.9" width="1.45" height="10.8" fill="#c92424"/>
<rect x="157.8" y="295.9" width="1.15" height="10.8" fill="#d97a1b"/>
<rect x="158.8" y="295.9" width="2.35" height="10.8" fill="#72ad53"/>
<rect x="161" y="295.9" width="1.25" height="10.8" fill="#8a5599"/>
<rect x="162.1" y="295.9" width="2.05" height="10.8" fill="#d97a1b"/>
<rect x="164" y="295.9" width="2.15" height="10.8" fill="#8a5599"/>
<rect x="166" y="295.9" width="2.05" height="10.8" fill="#c92424"/>
<rect x="167.9" y="295.9" width="5.95" height="10.8" fill="#5a84b8"/>
<rect x="173.7" y="295.9" width="1.55" height="10.8" fill="#8a5599"/>
<rect x="175.1" y="295.9" width="1.35" height="10.8" fill="#5a84b8"/>
<rect x="176.3" y="295.9" width="3.05" height="10.8" fill="#d97a1b"/>
<rect x="179.2" y="295.9" width="1.85" height="10.8" fill="#5a84b8"/>
<rect x="180.9" y="295.9" width="1.35" height="10.8" fill="#8a5599"/>
<rect x="182.1" y="295.9" width="3.25" height="10.8" fill="#d97a1b"/>
<rect x="185.2" y="295.9" width="1.15" height="10.8" fill="#5a84b8"/>
<rect x="186.2" y="295.9" width="2.05" height="10.8" fill="#72ad53"/>
<rect x="188.1" y="295.9" width="2.05" height="10.8" fill="#8a5599"/>
<rect x="190" y="295.9" width="1.85" height="10.8" fill="#8a5599"/>
<rect x="191.7" y="295.9" width="1.55" height="10.8" fill="#d97a1b"/>
<rect x="193.1" y="295.9" width="1.85" height="10.8" fill="#8a5599"/>
<rect x="194.8" y="295.9" width="1.65" height="10.8" fill="#d97a1b"/>
<rect x="196.3" y="295.9" width="2.65" height="10.8" fill="#5a84b8"/>
<rect x="198.8" y="295.9" width="1.75" height="10.8" fill="#d97a1b"/>
<rect x="200.4" y="295.9" width="1.75" height="10.8" fill="#5a84b8"/>
<rect x="202" y="295.9" width="1.45" height="10.8" fill="#d97a1b"/>
<rect x="203.3" y="295.9" width="2.75" height="10.8" fill="#8a5599"/>
<rect x="205.9" y="295.9" width="2.55" height="10.8" fill="#72ad53"/>
<rect x="208.3" y="295.9" width="2.05" height="10.8" fill="#8a5599"/>
<rect x="210.2" y="295.9" width="1.85" height="10.8" fill="#5a84b8"/>
<rect x="211.9" y="295.9" width="3.05" height="10.8" fill="#d97a1b"/>
<rect x="214.8" y="295.9" width="1.35" height="10.8" fill="#5a84b8"/>
<rect x="216" y="295.9" width="2.05" height="10.8" fill="#d97a1b"/>
<rect x="217.9" y="295.9" width="1.05" height="10.8" fill="#5a84b8"/>
<rect x="218.8" y="295.9" width="1.65" height="10.8" fill="#d97a1b"/>
<rect x="220.3" y="295.9" width="3.95" height="10.8" fill="#8a5599"/>
<rect x="224.1" y="295.9" width="2.35" height="10.8" fill="#5a84b8"/>
<rect x="226.3" y="295.9" width="8.15" height="10.8" fill="#d97a1b"/>
<rect x="234.3" y="295.9" width="5.95" height="10.8" fill="#8a5599"/>
<rect x="240.1" y="295.9" width="1.75" height="10.8" fill="#d97a1b"/>
<rect x="241.7" y="295.9" width="1.45" height="10.8" fill="#8a5599"/>
<rect x="243" y="295.9" width="4.25" height="10.8" fill="#d97a1b"/>
<rect x="247.1" y="295.9" width="1.85" height="10.8" fill="#5a84b8"/>
<rect x="248.8" y="295.9" width="21.35" height="10.8" fill="#d97a1b"/>
<rect x="70.2" y="307.9" width="199.8" height="8.9" fill="#f7f7f7"/>
<rect x="70.15" y="306.7" width="1.4" height="10.8" fill="#000"/>
<rect x="91.3" y="306.7" width="1.4" height="10.8" fill="#000"/>
<rect x="102.45" y="306.7" width="1.4" height="10.8" fill="#000"/>
<rect x="106.1" y="306.7" width="2.3" height="10.8" fill="#000"/>
<rect x="134.2" y="306.7" width="1.4" height="10.8" fill="#000"/>
<rect x="138.1" y="306.7" width="1.4" height="10.8" fill="#000"/>
<rect x="141.65" y="306.7" width="1.4" height="10.8" fill="#000"/>
<rect x="145" y="306.7" width="1.8" height="10.8" fill="#000"/>
<rect x="150.95" y="306.7" width="1.4" height="10.8" fill="#000"/>
<rect x="157.9" y="306.7" width="1.4" height="10.8" fill="#000"/>
<rect x="174.1" y="306.7" width="3.4" height="10.8" fill="#000"/>
<rect x="178.65" y="306.7" width="1.4" height="10.8" fill="#000"/>
<rect x="189.3" y="306.7" width="1.4" height="10.8" fill="#000"/>
<rect x="199.2" y="306.7" width="1.4" height="10.8" fill="#000"/>
<rect x="219.1" y="306.7" width="1.7" height="10.8" fill="#000"/>
<rect x="222.9" y="306.7" width="2.3" height="10.8" fill="#000"/>
<rect x="227.7" y="306.7" width="6.2" height="10.8" fill="#000"/>
<rect x="242" y="306.7" width="1.4" height="10.8" fill="#000"/>
<rect x="245.55" y="306.7" width="1.4" height="10.8" fill="#000"/>
<rect x="253.1" y="306.7" width="1.4" height="10.8" fill="#000"/>
<rect x="256.65" y="306.7" width="1.4" height="10.8" fill="#000"/>
<rect x="259.8" y="306.7" width="2.2" height="10.8" fill="#000"/>
<rect x="264" y="306.7" width="3.9" height="10.8" fill="#000"/>
<text transform="translate(67 315.6) scale(0.95 1)" font-size="6.4" text-anchor="end" font-style="italic">SF3B1</text>
<rect x="70.2" y="318.7" width="199.8" height="8.9" fill="#f7f7f7"/>
<rect x="124" y="317.5" width="1.4" height="10.8" fill="#000"/>
<rect x="139.45" y="317.5" width="1.4" height="10.8" fill="#000"/>
<rect x="143.05" y="317.5" width="1.4" height="10.8" fill="#000"/>
<rect x="145" y="317.5" width="1.8" height="10.8" fill="#000"/>
<rect x="164.8" y="317.5" width="1.4" height="10.8" fill="#000"/>
<rect x="199.2" y="317.5" width="1.4" height="10.8" fill="#000"/>
<rect x="201.8" y="317.5" width="1.4" height="10.8" fill="#000"/>
<rect x="204.6" y="317.5" width="2.3" height="10.8" fill="#000"/>
<rect x="219.1" y="317.5" width="1.4" height="10.8" fill="#000"/>
<rect x="222.9" y="317.5" width="2.3" height="10.8" fill="#000"/>
<rect x="242.2" y="317.5" width="1.4" height="10.8" fill="#000"/>
<rect x="246.4" y="317.5" width="1.4" height="10.8" fill="#000"/>
<rect x="249.75" y="317.5" width="1.4" height="10.8" fill="#000"/>
<rect x="263.85" y="317.5" width="1.4" height="10.8" fill="#000"/>
<rect x="266.5" y="317.5" width="1.4" height="10.8" fill="#000"/>
<text transform="translate(67 326.4) scale(0.95 1)" font-size="6.4" text-anchor="end" font-style="italic">DNMT3A</text>
<rect x="70.2" y="327.5" width="200.4" height="0.9" fill="#cfcfcf"/>
<rect x="270" y="307.2" width="0.8" height="21.1" fill="#d8d8d8"/>
<rect x="69.8" y="306.7" width="0.5" height="21.6" fill="#d0d0d0"/>
<text transform="translate(280.8 304.8) scale(0.95 1)" font-size="6.4" text-anchor="middle">IC</text>
<text transform="translate(306.9 304.8) scale(0.95 1)" font-size="6.4" text-anchor="middle">P−value</text>
<text transform="translate(332.8 304.8) scale(0.95 1)" font-size="6.4" text-anchor="middle">FDR</text>
<text transform="translate(280.8 315.4) scale(1.03 1)" font-size="6.4" text-anchor="middle">0.211</text>
<text transform="translate(306.9 315.4) scale(1.03 1)" font-size="6.4" text-anchor="middle">0.0160</text>
<text transform="translate(332.8 315.4) scale(1.03 1)" font-size="6.4" text-anchor="middle">0.0810</text>
<text transform="translate(280.8 326.2) scale(1.03 1)" font-size="6.4" text-anchor="middle">0.199</text>
<text transform="translate(306.9 326.2) scale(1.03 1)" font-size="6.4" text-anchor="middle">0.0300</text>
<text transform="translate(332.8 326.2) scale(1.03 1)" font-size="6.4" text-anchor="middle">0.1200</text>
<text transform="translate(400.8 29.6) scale(0.92 1)" font-size="8.6">ASXL1</text>
<line x1="398.2" x2="401.3" y1="91.5" y2="91.5" stroke="#000" stroke-width="0.8"/>
<text transform="translate(395.6 93.8) scale(1.05 1)" font-size="6.4" text-anchor="end">0</text>
<line x1="398.2" x2="401.3" y1="80.16" y2="80.16" stroke="#000" stroke-width="0.8"/>
<text transform="translate(395.6 82.46) scale(1.05 1)" font-size="6.4" text-anchor="end">5</text>
<line x1="398.2" x2="401.3" y1="68.82" y2="68.82" stroke="#000" stroke-width="0.8"/>
<text transform="translate(395.6 71.12) scale(1.05 1)" font-size="6.4" text-anchor="end">10</text>
<line x1="398.2" x2="401.3" y1="57.48" y2="57.48" stroke="#000" stroke-width="0.8"/>
<text transform="translate(395.6 59.78) scale(1.05 1)" font-size="6.4" text-anchor="end">15</text>
<line x1="398.2" x2="401.3" y1="46.14" y2="46.14" stroke="#000" stroke-width="0.8"/>
<text transform="translate(395.6 48.44) scale(1.05 1)" font-size="6.4" text-anchor="end">20</text>
<line x1="398.2" x2="401.3" y1="34.8" y2="34.8" stroke="#000" stroke-width="0.8"/>
<text transform="translate(395.6 37.1) scale(1.05 1)" font-size="6.4" text-anchor="end">25</text>
<text transform="translate(381.8 63.1) rotate(-90) scale(0.78 1)" font-size="8.4" text-anchor="middle" class="bd">Comp. 3 score</text>
<line x1="413.05" x2="413.05" y1="80" y2="91.2" stroke="#333" stroke-width="0.8"/>
<rect x="409.6" y="81.6" width="6.9" height="7" fill="#b0062c" stroke="#7a0620" stroke-width="0.4"/>
<line x1="409.4" x2="416.7" y1="84" y2="84" stroke="#111" stroke-width="1.4"/>
<line x1="428.75" x2="428.75" y1="70.2" y2="90.4" stroke="#333" stroke-width="0.8"/>
<rect x="425.3" y="73.7" width="6.9" height="9.4" fill="#b0062c" stroke="#7a0620" stroke-width="0.4"/>
<line x1="425.1" x2="432.4" y1="77.6" y2="77.6" stroke="#111" stroke-width="1.4"/>
<line x1="436" x2="436" y1="58.4" y2="91.2" stroke="#333" stroke-width="0.8"/>
<rect x="432.6" y="63.9" width="6.8" height="12.4" fill="#2d4f8f" stroke="#1c3468" stroke-width="0.4"/>
<line x1="432.4" x2="439.6" y1="69.2" y2="69.2" stroke="#111" stroke-width="1.4"/>
<line x1="448.15" x2="448.15" y1="45.8" y2="71.3" stroke="#333" stroke-width="0.8"/>
<rect x="444.7" y="46" width="6.9" height="10.3" fill="#b0062c" stroke="#7a0620" stroke-width="0.4"/>
<line x1="444.5" x2="451.8" y1="48.8" y2="48.8" stroke="#111" stroke-width="1.4"/>
<line x1="455.4" x2="455.4" y1="45.8" y2="71.3" stroke="#333" stroke-width="0.8"/>
<rect x="452" y="46" width="6.8" height="10.3" fill="#2d4f8f" stroke="#1c3468" stroke-width="0.4"/>
<line x1="451.8" x2="459" y1="48.8" y2="48.8" stroke="#111" stroke-width="1.4"/>
<line x1="467.5" x2="467.5" y1="63.8" y2="91.3" stroke="#333" stroke-width="0.8"/>
<rect x="464.2" y="78.3" width="6.6" height="11.5" fill="#b0062c" stroke="#7a0620" stroke-width="0.4"/>
<line x1="464" x2="471" y1="83" y2="83" stroke="#111" stroke-width="1.4"/>
<line x1="474.65" x2="474.65" y1="72.2" y2="91.3" stroke="#333" stroke-width="0.8"/>
<rect x="471.2" y="76.8" width="6.9" height="7.6" fill="#2d4f8f" stroke="#1c3468" stroke-width="0.4"/>
<line x1="471" x2="478.3" y1="80.1" y2="80.1" stroke="#111" stroke-width="1.4"/>
<line x1="487.15" x2="487.15" y1="61.4" y2="91.3" stroke="#333" stroke-width="0.8"/>
<rect x="483.8" y="73" width="6.7" height="11.8" fill="#b0062c" stroke="#7a0620" stroke-width="0.4"/>
<line x1="483.6" x2="490.7" y1="78.7" y2="78.7" stroke="#111" stroke-width="1.4"/>
<line x1="494.35" x2="494.35" y1="57.5" y2="85" stroke="#333" stroke-width="0.8"/>
<rect x="490.9" y="61.6" width="6.9" height="11.8" fill="#2d4f8f" stroke="#1c3468" stroke-width="0.4"/>
<line x1="490.7" x2="498" y1="69.3" y2="69.3" stroke="#111" stroke-width="1.4"/>
<text x="432.4" y="41.7" font-size="5.4" text-anchor="middle" style="fill:#333;stroke:none">*</text>
<text x="451.8" y="39.9" font-size="5.4" text-anchor="middle" style="fill:#333;stroke:none">ns</text>
<text x="471" y="39.9" font-size="5.4" text-anchor="middle" style="fill:#333;stroke:none">ns</text>
<text x="490.7" y="41.7" font-size="5.4" text-anchor="middle" style="fill:#333;stroke:none">**</text>
<rect x="401.3" y="32.1" width="100.9" height="62.2" fill="none" stroke="#000" stroke-width="1"/>
<text transform="translate(400.8 104.4) scale(0.92 1)" font-size="8.6">RUNX1</text>
<line x1="398.2" x2="401.3" y1="166.3" y2="166.3" stroke="#000" stroke-width="0.8"/>
<text transform="translate(395.6 168.6) scale(1.05 1)" font-size="6.4" text-anchor="end">0</text>
<line x1="398.2" x2="401.3" y1="154.96" y2="154.96" stroke="#000" stroke-width="0.8"/>
<text transform="translate(395.6 157.26) scale(1.05 1)" font-size="6.4" text-anchor="end">5</text>
<line x1="398.2" x2="401.3" y1="143.62" y2="143.62" stroke="#000" stroke-width="0.8"/>
<text transform="translate(395.6 145.92) scale(1.05 1)" font-size="6.4" text-anchor="end">10</text>
<line x1="398.2" x2="401.3" y1="132.28" y2="132.28" stroke="#000" stroke-width="0.8"/>
<text transform="translate(395.6 134.58) scale(1.05 1)" font-size="6.4" text-anchor="end">15</text>
<line x1="398.2" x2="401.3" y1="120.94" y2="120.94" stroke="#000" stroke-width="0.8"/>
<text transform="translate(395.6 123.24) scale(1.05 1)" font-size="6.4" text-anchor="end">20</text>
<line x1="398.2" x2="401.3" y1="109.6" y2="109.6" stroke="#000" stroke-width="0.8"/>
<text transform="translate(395.6 111.9) scale(1.05 1)" font-size="6.4" text-anchor="end">25</text>
<text transform="translate(381.8 137.9) rotate(-90) scale(0.78 1)" font-size="8.4" text-anchor="middle" class="bd">Comp. 3 score</text>
<line x1="413.05" x2="413.05" y1="154.6" y2="166.4" stroke="#333" stroke-width="0.8"/>
<rect x="409.6" y="156.2" width="6.9" height="7.4" fill="#b0062c" stroke="#7a0620" stroke-width="0.4"/>
<line x1="409.4" x2="416.7" y1="158.9" y2="158.9" stroke="#111" stroke-width="1.4"/>
<line x1="428.75" x2="428.75" y1="138.3" y2="165.8" stroke="#333" stroke-width="0.8"/>
<rect x="425.3" y="148.3" width="6.9" height="8.5" fill="#b0062c" stroke="#7a0620" stroke-width="0.4"/>
<line x1="425.1" x2="432.4" y1="152" y2="152" stroke="#111" stroke-width="1.4"/>
<line x1="436" x2="436" y1="135.8" y2="151.1" stroke="#333" stroke-width="0.8"/>
<rect x="432.6" y="144.8" width="6.8" height="6.1" fill="#2d4f8f" stroke="#1c3468" stroke-width="0.4"/>
<line x1="432.4" x2="439.6" y1="148.1" y2="148.1" stroke="#111" stroke-width="1.4"/>
<line x1="448.15" x2="448.15" y1="120.7" y2="139" stroke="#333" stroke-width="0.8"/>
<rect x="444.7" y="120.9" width="6.9" height="11.4" fill="#b0062c" stroke="#7a0620" stroke-width="0.4"/>
<line x1="444.5" x2="451.8" y1="124.2" y2="124.2" stroke="#111" stroke-width="1.4"/>
<line x1="455.4" x2="455.4" y1="121.3" y2="127.6" stroke="#333" stroke-width="0.8"/>
<rect x="452" y="121.5" width="6.8" height="4.9" fill="#2d4f8f" stroke="#1c3468" stroke-width="0.4"/>
<line x1="451.8" x2="459" y1="122" y2="122" stroke="#111" stroke-width="1.4"/>
<line x1="467.5" x2="467.5" y1="144.3" y2="165.3" stroke="#333" stroke-width="0.8"/>
<rect x="464.2" y="154.3" width="6.6" height="10.8" fill="#b0062c" stroke="#7a0620" stroke-width="0.4"/>
<line x1="464" x2="471" y1="158" y2="158" stroke="#111" stroke-width="1.4"/>
<line x1="474.65" x2="474.65" y1="139" y2="150.8" stroke="#333" stroke-width="0.8"/>
<rect x="471.2" y="142.9" width="6.9" height="5.7" fill="#2d4f8f" stroke="#1c3468" stroke-width="0.4"/>
<line x1="471" x2="478.3" y1="145.8" y2="145.8" stroke="#111" stroke-width="1.4"/>
<line x1="487.15" x2="487.15" y1="132.5" y2="165.9" stroke="#333" stroke-width="0.8"/>
<rect x="483.8" y="147" width="6.7" height="12.8" fill="#b0062c" stroke="#7a0620" stroke-width="0.4"/>
<line x1="483.6" x2="490.7" y1="152.1" y2="152.1" stroke="#111" stroke-width="1.4"/>
<line x1="494.35" x2="494.35" y1="136.4" y2="143.7" stroke="#333" stroke-width="0.8"/>
<rect x="490.9" y="138" width="6.9" height="3.5" fill="#2d4f8f" stroke="#1c3468" stroke-width="0.4"/>
<line x1="490.7" x2="498" y1="139.8" y2="139.8" stroke="#111" stroke-width="1.4"/>
<text x="432.4" y="114.2" font-size="5.4" text-anchor="middle" style="fill:#333;stroke:none">ns</text>
<text x="451.8" y="114.2" font-size="5.4" text-anchor="middle" style="fill:#333;stroke:none">ns</text>
<text x="471" y="116" font-size="5.4" text-anchor="middle" style="fill:#333;stroke:none">*</text>
<text x="490.7" y="116" font-size="5.4" text-anchor="middle" style="fill:#333;stroke:none">*</text>
<rect x="401.3" y="106.9" width="100.9" height="62.2" fill="none" stroke="#000" stroke-width="1"/>
<text transform="translate(400.8 179.2) scale(0.92 1)" font-size="8.6">TET2</text>
<line x1="398.2" x2="401.3" y1="241.1" y2="241.1" stroke="#000" stroke-width="0.8"/>
<text transform="translate(395.6 243.4) scale(1.05 1)" font-size="6.4" text-anchor="end">0</text>
<line x1="398.2" x2="401.3" y1="229.76" y2="229.76" stroke="#000" stroke-width="0.8"/>
<text transform="translate(395.6 232.06) scale(1.05 1)" font-size="6.4" text-anchor="end">5</text>
<line x1="398.2" x2="401.3" y1="218.42" y2="218.42" stroke="#000" stroke-width="0.8"/>
<text transform="translate(395.6 220.72) scale(1.05 1)" font-size="6.4" text-anchor="end">10</text>
<line x1="398.2" x2="401.3" y1="207.08" y2="207.08" stroke="#000" stroke-width="0.8"/>
<text transform="translate(395.6 209.38) scale(1.05 1)" font-size="6.4" text-anchor="end">15</text>
<line x1="398.2" x2="401.3" y1="195.74" y2="195.74" stroke="#000" stroke-width="0.8"/>
<text transform="translate(395.6 198.04) scale(1.05 1)" font-size="6.4" text-anchor="end">20</text>
<line x1="398.2" x2="401.3" y1="184.4" y2="184.4" stroke="#000" stroke-width="0.8"/>
<text transform="translate(395.6 186.7) scale(1.05 1)" font-size="6.4" text-anchor="end">25</text>
<text transform="translate(381.8 212.7) rotate(-90) scale(0.78 1)" font-size="8.4" text-anchor="middle" class="bd">Comp. 4 score</text>
<rect x="405.9" y="230.5" width="6.5" height="1" fill="#b0062c" stroke="#7a0620" stroke-width="0.4"/>
<line x1="405.7" x2="412.6" y1="231" y2="231" stroke="#111" stroke-width="1.4"/>
<rect x="413.4" y="218.1" width="6.6" height="0.8" fill="#2d4f8f" stroke="#1c3468" stroke-width="0.4"/>
<line x1="413.2" x2="420.2" y1="218.5" y2="218.5" stroke="#111" stroke-width="1.4"/>
<line x1="428.85" x2="428.85" y1="222.1" y2="240.8" stroke="#333" stroke-width="0.8"/>
<rect x="425.5" y="228.4" width="6.7" height="12.2" fill="#b0062c" stroke="#7a0620" stroke-width="0.4"/>
<line x1="425.3" x2="432.4" y1="233.1" y2="233.1" stroke="#111" stroke-width="1.4"/>
<line x1="436" x2="436" y1="224.2" y2="233.7" stroke="#333" stroke-width="0.8"/>
<rect x="432.6" y="226.4" width="6.8" height="3.6" fill="#2d4f8f" stroke="#1c3468" stroke-width="0.4"/>
<line x1="432.4" x2="439.6" y1="227.6" y2="227.6" stroke="#111" stroke-width="1.4"/>
<line x1="448.1" x2="448.1" y1="231" y2="240.3" stroke="#333" stroke-width="0.8"/>
<rect x="444.7" y="234.5" width="6.8" height="5.6" fill="#b0062c" stroke="#7a0620" stroke-width="0.4"/>
<line x1="444.5" x2="451.7" y1="236.3" y2="236.3" stroke="#111" stroke-width="1.4"/>
<line x1="455.45" x2="455.45" y1="197.8" y2="240.8" stroke="#333" stroke-width="0.8"/>
<rect x="451.9" y="217.7" width="7.1" height="15.8" fill="#2d4f8f" stroke="#1c3468" stroke-width="0.4"/>
<line x1="451.7" x2="459.2" y1="226" y2="226" stroke="#111" stroke-width="1.4"/>
<line x1="467.45" x2="467.45" y1="190.6" y2="210" stroke="#333" stroke-width="0.8"/>
<rect x="464.1" y="190.8" width="6.7" height="14.3" fill="#b0062c" stroke="#7a0620" stroke-width="0.4"/>
<line x1="463.9" x2="471" y1="199.3" y2="199.3" stroke="#111" stroke-width="1.4"/>
<line x1="474.75" x2="474.75" y1="190.6" y2="205.3" stroke="#333" stroke-width="0.8"/>
<rect x="471.2" y="190.8" width="7.1" height="8.9" fill="#2d4f8f" stroke="#1c3468" stroke-width="0.4"/>
<line x1="471" x2="478.5" y1="195.2" y2="195.2" stroke="#111" stroke-width="1.4"/>
<line x1="487.05" x2="487.05" y1="214.4" y2="240.8" stroke="#333" stroke-width="0.8"/>
<rect x="483.7" y="225.2" width="6.7" height="8.3" fill="#b0062c" stroke="#7a0620" stroke-width="0.4"/>
<line x1="483.5" x2="490.6" y1="229.6" y2="229.6" stroke="#111" stroke-width="1.4"/>
<line x1="494.35" x2="494.35" y1="197.2" y2="241.2" stroke="#333" stroke-width="0.8"/>
<rect x="490.8" y="214.2" width="7.1" height="12.8" fill="#2d4f8f" stroke="#1c3468" stroke-width="0.4"/>
<line x1="490.6" x2="498.1" y1="224.2" y2="224.2" stroke="#111" stroke-width="1.4"/>
<text x="413" y="187.6" font-size="5.4" text-anchor="middle" style="fill:#333;stroke:none">ns</text>
<text x="432.4" y="187.6" font-size="5.4" text-anchor="middle" style="fill:#333;stroke:none">ns</text>
<text x="451.8" y="189.4" font-size="5.4" text-anchor="middle" style="fill:#333;stroke:none">*</text>
<text x="471" y="187.6" font-size="5.4" text-anchor="middle" style="fill:#333;stroke:none">ns</text>
<text x="490.7" y="189.4" font-size="5.4" text-anchor="middle" style="fill:#333;stroke:none">**</text>
<rect x="401.3" y="181.7" width="100.9" height="62.2" fill="none" stroke="#000" stroke-width="1"/>
<line x1="412.8" x2="412.8" y1="243.9" y2="245.9" stroke="#000" stroke-width="0.8"/>
<text transform="translate(417.8 251.9) rotate(-45)" font-size="6.5" text-anchor="end">Cluster A</text>
<line x1="432.2" x2="432.2" y1="243.9" y2="245.9" stroke="#000" stroke-width="0.8"/>
<text transform="translate(437.2 251.9) rotate(-45)" font-size="6.5" text-anchor="end">Cluster B</text>
<line x1="451.6" x2="451.6" y1="243.9" y2="245.9" stroke="#000" stroke-width="0.8"/>
<text transform="translate(456.6 251.9) rotate(-45)" font-size="6.5" text-anchor="end">Cluster C</text>
<line x1="471" x2="471" y1="243.9" y2="245.9" stroke="#000" stroke-width="0.8"/>
<text transform="translate(476 251.9) rotate(-45)" font-size="6.5" text-anchor="end">Cluster D</text>
<line x1="490.3" x2="490.3" y1="243.9" y2="245.9" stroke="#000" stroke-width="0.8"/>
<text transform="translate(495.3 251.9) rotate(-45)" font-size="6.5" text-anchor="end">Cluster E</text>
<rect x="374.9" y="279.1" width="8.1" height="8.66" fill="#d0282a" stroke="#999" stroke-width="0.3"/>
<text transform="translate(386.3 285.83) scale(0.95 1)" font-size="6.4">Cluster A</text>
<rect x="374.9" y="287.76" width="8.1" height="8.66" fill="#3c7fc0" stroke="#999" stroke-width="0.3"/>
<text transform="translate(386.3 294.49) scale(0.95 1)" font-size="6.4">Cluster B</text>
<rect x="374.9" y="296.42" width="8.1" height="8.66" fill="#4aa046" stroke="#999" stroke-width="0.3"/>
<text transform="translate(386.3 303.15) scale(0.95 1)" font-size="6.4">Cluster C</text>
<rect x="374.9" y="305.08" width="8.1" height="8.66" fill="#8e4e9e" stroke="#999" stroke-width="0.3"/>
<text transform="translate(386.3 311.81) scale(0.95 1)" font-size="6.4">Cluster D</text>
<rect x="374.9" y="313.74" width="8.1" height="8.66" fill="#e07d20" stroke="#999" stroke-width="0.3"/>
<text transform="translate(386.3 320.47) scale(0.95 1)" font-size="6.4">Cluster E</text>
<rect x="417.8" y="279.7" width="8.7" height="43.1" fill="url(#cb)"/>
<text transform="translate(429.5 284.3) scale(1.05 1)" font-size="6.4">2</text>
<text transform="translate(429.5 295.7) scale(1.05 1)" font-size="6.4">1</text>
<line x1="417.8" x2="419.2" y1="293.6" y2="293.6" stroke="#777" stroke-width="0.4"/>
<line x1="425.1" x2="426.5" y1="293.6" y2="293.6" stroke="#777" stroke-width="0.4"/>
<text transform="translate(429.5 308.7) scale(1.05 1)" font-size="6.4">0</text>
<line x1="417.8" x2="419.2" y1="305.6" y2="305.6" stroke="#777" stroke-width="0.4"/>
<line x1="425.1" x2="426.5" y1="305.6" y2="305.6" stroke="#777" stroke-width="0.4"/>
<text transform="translate(429.5 320.9) scale(1.05 1)" font-size="6.4">−1</text>
<line x1="417.8" x2="419.2" y1="317.5" y2="317.5" stroke="#777" stroke-width="0.4"/>
<line x1="425.1" x2="426.5" y1="317.5" y2="317.5" stroke="#777" stroke-width="0.4"/>
<text transform="translate(436.3 299) scale(0.95 1)" font-size="6.4">Component</text>
<text transform="translate(436.3 306.7) scale(0.95 1)" font-size="6.4">Z−Score</text>
<line x1="474.4" x2="474.4" y1="281.2" y2="288.4" stroke="#222" stroke-width="0.8"/>
<rect x="471" y="282.4" width="6.8" height="4.8" fill="#b0062c" stroke="#222" stroke-width="0.5"/>
<line x1="471" x2="477.8" y1="284.8" y2="284.8" stroke="#111" stroke-width="1"/>
<text transform="translate(480.2 287.2) scale(0.95 1)" font-size="6.4">non−mutant</text>
<line x1="474.4" x2="474.4" y1="289.8" y2="297" stroke="#222" stroke-width="0.8"/>
<rect x="471" y="291" width="6.8" height="4.8" fill="#2d4f8f" stroke="#222" stroke-width="0.5"/>
<line x1="471" x2="477.8" y1="293.4" y2="293.4" stroke="#111" stroke-width="1"/>
<text transform="translate(480.2 295.8) scale(0.95 1)" font-size="6.4">mutant</text>
<rect x="470.8" y="304.3" width="7.9" height="8.5" fill="#fff" stroke="#333" stroke-width="0.6"/>
<rect x="470.8" y="312.8" width="7.9" height="8.8" fill="#000" stroke="#333" stroke-width="0.6"/>
<text transform="translate(479.7 311.6) scale(0.99 1)" font-size="6.4">Unmutated</text>
<text transform="translate(479.7 320.6) scale(0.99 1)" font-size="6.4">Mutated</text>
<rect x="0" y="0" width="520" height="1.2" fill="#000"/>
<rect x="0" y="0" width="1.2" height="336" fill="#000"/>
<rect x="518.6" y="0" width="1.4" height="336" fill="#000"/>
<rect x="0" y="334.6" width="520" height="1.4" fill="#000"/>
</svg>
</body></html>
